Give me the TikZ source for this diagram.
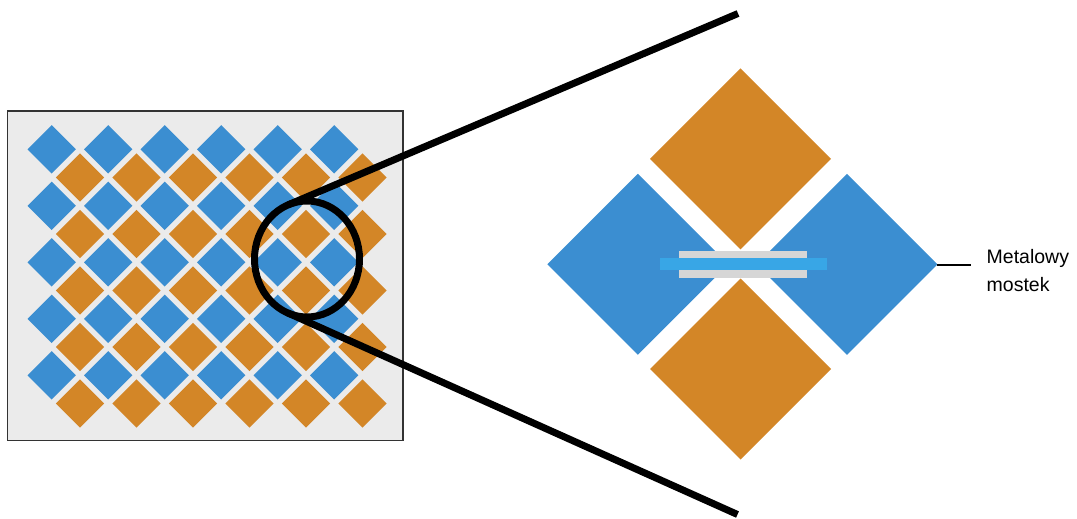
\documentclass[tikz,border=0pt]{standalone}
\usepackage{fontspec}
\newfontfamily\labfont{Liberation Sans}
\definecolor{tileblue}{HTML}{3B8ED1}
\definecolor{tileorange}{HTML}{D38627}
\definecolor{panelgrey}{HTML}{EBEBEB}
\definecolor{panelborder}{HTML}{333333}
\definecolor{bridgegrey}{HTML}{D6D6D6}
\definecolor{bridgeblue}{HTML}{38A6E6}
\begin{document}
\begin{tikzpicture}[x=1pt,y=-1pt,
  panel/.style={fill=panelgrey,draw=panelborder,line width=1.5pt},
  zoomring/.style={draw=black,line width=7pt},
  zoomline/.style={draw=black,line width=7pt,line cap=butt},
  tickline/.style={draw=black,line width=1.2pt},
  labeltext/.style={anchor=base west,inner sep=0pt,font=\labfont\fontsize{19.5}{23}\selectfont}]
\useasboundingbox (0,0) rectangle (1077,519);
% left panel
\draw[panel] (7.5,111) rectangle (403,440.7);
\foreach \i in {0,...,5}{
  \foreach \j in {0,...,4}{
    \fill[tileblue] ({51.7+56.5*\i},{149.3+56.5*\j}) +(-24.2,0) -- +(0,-24.2) -- +(24.2,0) -- +(0,24.2) -- cycle;
    \fill[tileorange] ({80+56.5*\i},{177.5+56.5*\j}) +(-24.2,0) -- +(0,-24.2) -- +(24.2,0) -- +(0,24.2) -- cycle;
  }
}
% magnified tiles
\fill[tileorange] (740.5,158.8) +(-90.5,0) -- +(0,-90.5) -- +(90.5,0) -- +(0,90.5) -- cycle;
\fill[tileorange] (740.5,369.0) +(-90.5,0) -- +(0,-90.5) -- +(90.5,0) -- +(0,90.5) -- cycle;
\fill[tileblue] (637.8,264.3) +(-90.5,0) -- +(0,-90.5) -- +(90.5,0) -- +(0,90.5) -- cycle;
\fill[tileblue] (847.0,264.3) +(-90.5,0) -- +(0,-90.5) -- +(90.5,0) -- +(0,90.5) -- cycle;
% bridge
\fill[bridgegrey] (679,250.7) rectangle (806.7,277.7);
\fill[bridgeblue] (660,258) rectangle (826.7,269.7);
% zoom ring and lines
\coordinate (ringc) at (307,259);
\draw[zoomring] (ringc) ellipse [x radius=52.5pt, y radius=58pt];
\coordinate (t1) at (288,204.9);
\coordinate (e1) at (738,13.5);
\coordinate (t2) at (287.2,312.7);
\coordinate (e2) at (737.5,514.5);
\draw[zoomline] (t1) -- (e1);
\draw[zoomline] (t2) -- (e2);
% label
\coordinate (tipR) at (937,265);
\coordinate (tickend) at (970.7,265);
\draw[tickline] (tipR) -- (tickend);
\node[labeltext] (lbl1) at (986.5,263.3) {Metalowy};
\node[labeltext] (lbl2) at (986.5,291.5) {mostek};
\end{tikzpicture}
\end{document}
